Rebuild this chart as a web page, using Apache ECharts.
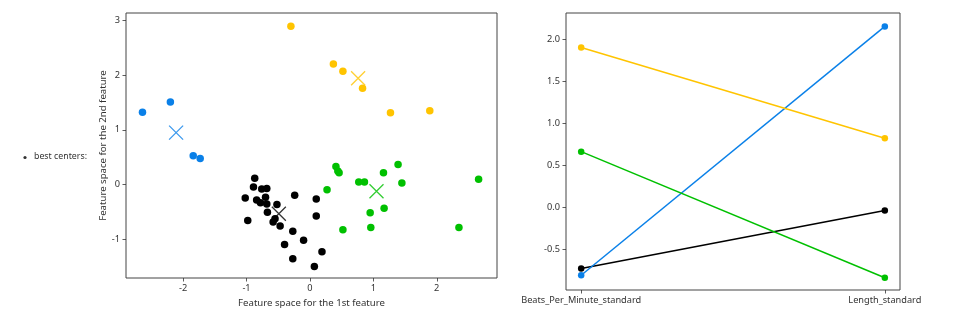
<!DOCTYPE html>
<html><head><meta charset="utf-8">
<script src="https://cdn.jsdelivr.net/npm/echarts@6/dist/echarts.min.js"></script>
<style>html,body{margin:0;padding:0;background:#fff}#c{width:966px;height:322px}</style>
</head><body><div id="c"></div>
<script>
// ---- data ----
const clusterColors = ['#0a80e8', '#ffc400', '#000000', '#00c000']; // blue, yellow, black, green
const blueX = [-2.64, -2.20, -1.84, -1.73];
const blueY = [1.32, 1.51, 0.53, 0.48];
const yellowX = [-0.30, 0.37, 0.52, 0.83, 1.27, 1.89];
const yellowY = [2.89, 2.20, 2.07, 1.76, 1.31, 1.35];
const blackX = [-0.87, -0.89, -0.76, -0.68, -1.02, -0.70, -0.84, -0.78, -0.68, -0.52, -0.24, -0.67, -0.98, -0.58, -0.55, -0.47, -0.27, -0.10, -0.40, -0.27, 0.10, 0.10, 0.19, 0.07];
const blackY = [0.12, -0.04, -0.08, -0.07, -0.24, -0.23, -0.28, -0.33, -0.35, -0.36, -0.19, -0.50, -0.65, -0.68, -0.62, -0.75, -0.85, -1.01, -1.09, -1.35, -0.26, -0.57, -1.22, -1.49];
const greenX = [0.41, 0.44, 0.46, 0.27, 0.77, 0.86, 1.16, 1.39, 1.45, 0.95, 1.17, 0.52, 0.96, 2.35, 2.66];
const greenY = [0.33, 0.25, 0.22, -0.09, 0.05, 0.05, 0.22, 0.37, 0.03, -0.51, -0.43, -0.82, -0.78, -0.78, 0.10];
const centerX = [-2.11, 0.76, -0.49, 1.05];
const centerY = [0.95, 1.94, -0.53, -0.12];

const features = ['Beats_Per_Minute_standard', 'Length_standard'];
const profBlue = [-0.81, 2.15];
const profYellow = [1.90, 0.82];
const profBlack = [-0.73, -0.04];
const profGreen = [0.66, -0.84];

const scatterXTicks = [-2, -1, 0, 1, 2];
const scatterYTicks = [-1, 0, 1, 2, 3];
const profYTicks = [-0.5, 0.0, 0.5, 1.0, 1.5, 2.0];
const featurePos = [0, 1];

const xLabel = 'Feature space for the 1st feature';
const yLabel = 'Feature space for the 2nd feature';
const sideText = 'best centers:';

// ---- helpers ----
const zip = (xs, ys) => xs.map((x, i) => [x, ys[i]]);
const FONT = 'Noto Sans';
const labelStyle = { color: '#333', fontSize: 9.2, fontFamily: FONT };
const nameStyle = { color: '#333', fontSize: 9.6, fontFamily: FONT };
const tickStyle = { show: true, length: 3.5, inside: false, lineStyle: { color: '#333', width: 0.8 } };
const noLine = { show: false, onZero: false };

const chart = echarts.init(document.getElementById('c'), null, { renderer: 'canvas' });

const pointSeries = [[blueX, blueY], [yellowX, yellowY], [blackX, blackY], [greenX, greenY]].map((p, i) => ({
  type: 'scatter', xAxisIndex: 0, yAxisIndex: 0,
  data: zip(p[0], p[1]), symbol: 'circle', symbolSize: 7.5,
  itemStyle: { color: clusterColors[i], opacity: 1 }, silent: true
}));
const centerSeries = centerX.map((cx, i) => ({
  type: 'scatter', xAxisIndex: 0, yAxisIndex: 0,
  data: [[cx, centerY[i]]], symbol: 'path://M0,0L10,10M10,0L0,10', symbolSize: 14,
  itemStyle: { color: 'rgba(0,0,0,0)', borderColor: clusterColors[i], borderWidth: 1.3 }, silent: true, z: 5
}));
const profiles = [profBlack, profBlue, profYellow, profGreen];
const profColors = [clusterColors[2], clusterColors[0], clusterColors[1], clusterColors[3]];
const lineSeries = profiles.map((vals, i) => ({
  type: 'line', xAxisIndex: 1, yAxisIndex: 1,
  data: featurePos.map((x, j) => [x, vals[j]]),
  symbol: 'circle', symbolSize: 6.5, showSymbol: true,
  lineStyle: { color: profColors[i], width: 1.5 },
  itemStyle: { color: profColors[i] }, silent: true, animation: false
}));

chart.setOption({
  animation: false,
  backgroundColor: '#fff',
  textStyle: { fontFamily: FONT },
  grid: [
    { left: 126, top: 13, width: 371, height: 265, show: true, borderColor: '#444', borderWidth: 1, backgroundColor: 'transparent' },
    { left: 566, top: 13, width: 334, height: 277, show: true, borderColor: '#444', borderWidth: 1, backgroundColor: 'transparent' }
  ],
  xAxis: [
    { type: 'value', gridIndex: 0, min: -2.9, max: 2.95,
      name: xLabel, nameLocation: 'middle', nameGap: 17, nameTextStyle: nameStyle,
      axisLine: noLine, splitLine: { show: false },
      axisTick: Object.assign({ customValues: scatterXTicks }, tickStyle),
      axisLabel: Object.assign({ customValues: scatterXTicks, margin: 6 }, labelStyle) },
    { type: 'value', gridIndex: 1, min: -0.05, max: 1.05,
      axisLine: noLine, splitLine: { show: false },
      axisTick: Object.assign({ customValues: featurePos }, tickStyle),
      axisLabel: Object.assign({ customValues: featurePos, margin: 6, formatter: v => features[Math.round(v)] }, labelStyle) }
  ],
  yAxis: [
    { type: 'value', gridIndex: 0, min: -1.70, max: 3.13,
      name: yLabel, nameLocation: 'middle', nameGap: 17, nameTextStyle: nameStyle,
      axisLine: noLine, splitLine: { show: false },
      axisTick: Object.assign({ customValues: scatterYTicks }, tickStyle),
      axisLabel: Object.assign({ customValues: scatterYTicks, margin: 6 }, labelStyle) },
    { type: 'value', gridIndex: 1, min: -0.986, max: 2.31,
      axisLine: noLine, splitLine: { show: false },
      axisTick: Object.assign({ customValues: profYTicks }, tickStyle),
      axisLabel: Object.assign({ customValues: profYTicks, margin: 6, formatter: v => v.toFixed(1) }, labelStyle) }
  ],
  graphic: [
    { type: 'circle', shape: { cx: 25, cy: 157.5, r: 1.6 }, style: { fill: '#333' } },
    { type: 'text', left: 34, top: 152, style: { text: sideText, fill: '#333', font: '8.8px "Noto Sans"' } }
  ],
  series: pointSeries.concat(centerSeries, lineSeries)
});
</script>
</body></html>
